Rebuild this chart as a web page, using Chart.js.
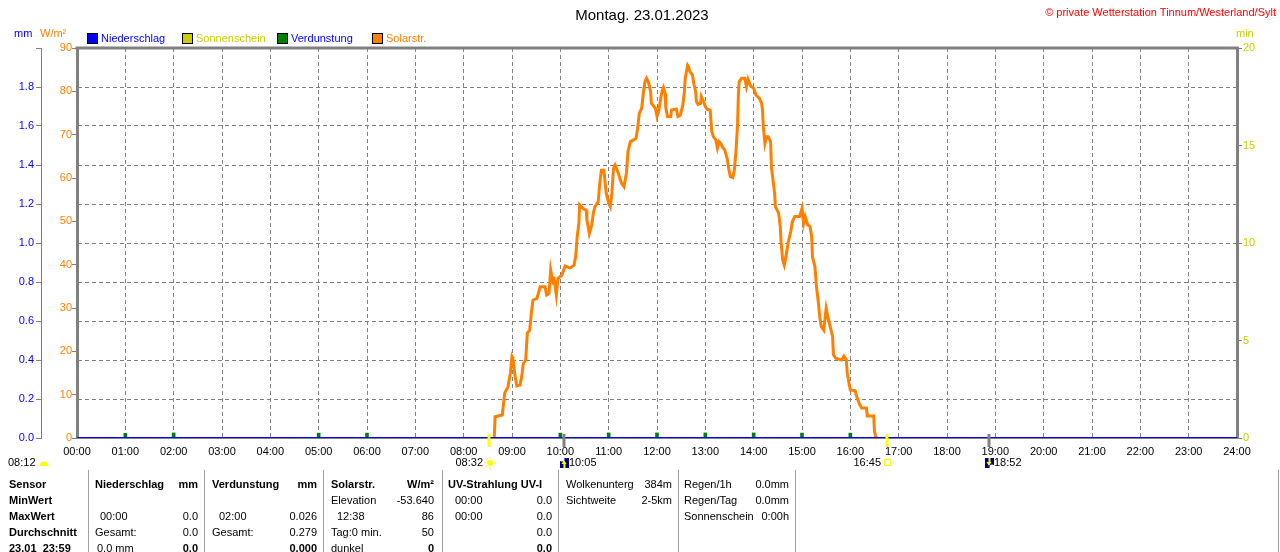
<!DOCTYPE html>
<html lang="de">
<head>
<meta charset="utf-8">
<title>Montag. 23.01.2023</title>
<script src="https://cdn.jsdelivr.net/npm/chart.js@4.4.1/dist/chart.umd.min.js"></script>
<style>
body{margin:0;background:#fff;font-family:"Liberation Sans",Arial,sans-serif;}
#wrap{position:relative;width:1280px;height:552px;overflow:hidden;}
#c{position:absolute;left:0;top:0;}
.t{position:absolute;font-size:11px;line-height:16px;white-space:nowrap;color:#000;}
.b{font-weight:bold;}
.sep{position:absolute;top:470px;height:82px;width:1px;background:#a0a0a0;}
.sq{position:absolute;top:33px;width:9px;height:9px;border:1px solid #000;}
</style>
</head>
<body>
<div id="wrap">
<canvas id="c" width="1280" height="552"></canvas>

<div class="t" style="left:0;width:1284px;top:6px;text-align:center;font-size:15px;line-height:18px">Montag. 23.01.2023</div>
<div class="t" style="right:4px;top:4px;color:#ff0000">© private Wetterstation Tinnum/Westerland/Sylt</div>

<div class="t" style="left:14px;top:25px;color:#0000ff">mm</div>
<div class="t" style="left:40px;top:25px;color:#ff8000">W/m²</div>
<div class="t" style="left:1236px;top:25px;color:#cccc00">min</div>

<div class="sq" style="left:87px;background:#0000ff"></div>
<div class="t" style="left:101px;top:30px;color:#0000ff">Niederschlag</div>
<div class="sq" style="left:182px;background:#cccc00"></div>
<div class="t" style="left:196px;top:30px;color:#cccc00">Sonnenschein</div>
<div class="sq" style="left:277px;background:#008000"></div>
<div class="t" style="left:291px;top:30px;color:#0000ff">Verdunstung</div>
<div class="sq" style="left:372px;background:#ff8000"></div>
<div class="t" style="left:386px;top:30px;color:#ff8000">Solarstr.</div>

<!-- Tabelle unten -->
<div class="sep" style="left:88px"></div>
<div class="sep" style="left:204px"></div>
<div class="sep" style="left:323px"></div>
<div class="sep" style="left:442px"></div>
<div class="sep" style="left:558px"></div>
<div class="sep" style="left:678px"></div>
<div class="sep" style="left:795px"></div>
<div class="sep" style="left:1278px"></div>

<div class="t b" style="left:9px;top:476px">Sensor</div>
<div class="t b" style="left:9px;top:492px">MinWert</div>
<div class="t b" style="left:9px;top:508px">MaxWert</div>
<div class="t b" style="left:9px;top:524px">Durchschnitt</div>
<div class="t b" style="left:9px;top:540px">23.01&nbsp;&nbsp;23:59</div>

<div class="t b" style="left:95px;top:476px">Niederschlag</div>
<div class="t b" style="right:1082px;top:476px">mm</div>
<div class="t" style="left:100px;top:508px">00:00</div>
<div class="t" style="right:1082px;top:508px">0.0</div>
<div class="t" style="left:95px;top:524px">Gesamt:</div>
<div class="t" style="right:1082px;top:524px">0.0</div>
<div class="t" style="left:97px;top:540px">0.0 mm</div>
<div class="t b" style="right:1082px;top:540px">0.0</div>

<div class="t b" style="left:212px;top:476px">Verdunstung</div>
<div class="t b" style="right:963px;top:476px">mm</div>
<div class="t" style="left:219px;top:508px">02:00</div>
<div class="t" style="right:963px;top:508px">0.026</div>
<div class="t" style="left:212px;top:524px">Gesamt:</div>
<div class="t" style="right:963px;top:524px">0.279</div>
<div class="t b" style="right:963px;top:540px">0.000</div>

<div class="t b" style="left:331px;top:476px">Solarstr.</div>
<div class="t b" style="right:846px;top:476px">W/m²</div>
<div class="t" style="left:331px;top:492px">Elevation</div>
<div class="t" style="right:846px;top:492px">-53.640</div>
<div class="t" style="left:337px;top:508px">12:38</div>
<div class="t" style="right:846px;top:508px">86</div>
<div class="t" style="left:331px;top:524px">Tag:0 min.</div>
<div class="t" style="right:846px;top:524px">50</div>
<div class="t" style="left:331px;top:540px">dunkel</div>
<div class="t b" style="right:846px;top:540px">0</div>

<div class="t b" style="left:448px;top:476px">UV-Strahlung UV-I</div>
<div class="t" style="left:455px;top:492px">00:00</div>
<div class="t" style="right:728px;top:492px">0.0</div>
<div class="t" style="left:455px;top:508px">00:00</div>
<div class="t" style="right:728px;top:508px">0.0</div>
<div class="t" style="right:728px;top:524px">0.0</div>
<div class="t b" style="right:728px;top:540px">0.0</div>

<div class="t" style="left:566px;top:476px">Wolkenunterg</div>
<div class="t" style="right:608px;top:476px">384m</div>
<div class="t" style="left:566px;top:492px">Sichtweite</div>
<div class="t" style="right:608px;top:492px">2-5km</div>

<div class="t" style="left:684px;top:476px">Regen/1h</div>
<div class="t" style="right:491px;top:476px">0.0mm</div>
<div class="t" style="left:684px;top:492px">Regen/Tag</div>
<div class="t" style="right:491px;top:492px">0.0mm</div>
<div class="t" style="left:684px;top:508px">Sonnenschein</div>
<div class="t" style="right:491px;top:508px">0:00h</div>
</div>

<script>
// Solarstrahlung W/m² (Uhrzeit / Wert)
const solarTimes = ['08:38','08:39','08:48','08:49','08:51','08:55','08:58','09:00','09:01','09:04',
  '09:06','09:10','09:12','09:14','09:17','09:19','09:22','09:24','09:26','09:31',
  '09:35','09:41','09:43','09:46','09:48','09:51','09:52','09:55','09:57','10:02',
  '10:06','10:12','10:17','10:19','10:21','10:23','10:24','10:28','10:32','10:33',
  '10:36','10:39','10:41','10:43','10:47','10:49','10:51','10:54','10:57','11:00',
  '11:02','11:04','11:06','11:08','11:12','11:14','11:16','11:19','11:22','11:24',
  '11:27','11:31','11:34','11:36','11:38','11:41','11:43','11:45','11:47','11:50',
  '11:52','11:53','11:55','11:58','12:00','12:02','12:04','12:06','12:08','12:10',
  '12:11','12:13','12:17','12:18','12:24','12:26','12:29','12:32','12:34','12:35',
  '12:38','12:39','12:41','12:44','12:46','12:48','12:49','12:51','12:54','12:55',
  '12:57','13:00','13:02','13:06','13:08','13:10','13:13','13:15','13:17','13:19',
  '13:22','13:24','13:27','13:29','13:31','13:34','13:36','13:38','13:40','13:41',
  '13:42','13:45','13:49','13:51','13:53','13:56','14:00','14:03','14:07','14:10',
  '14:11','14:12','14:14','14:16','14:18','14:21','14:22','14:24','14:26','14:27',
  '14:31','14:33','14:34','14:36','14:38','14:40','14:43','14:46','14:48','14:51',
  '14:57','15:00','15:02','15:04','15:07','15:10','15:12','15:13','15:16','15:18',
  '15:20','15:22','15:24','15:27','15:30','15:32','15:35','15:38','15:39','15:42',
  '15:49','15:52','15:55','15:56','15:58','16:00','16:06','16:08','16:11','16:14',
  '16:20','16:21','16:29','16:30','16:32'];
const solarValues = [0,4.9,5.3,7.2,10.4,11.8,15,18.8,18.4,14.1,
  12,12.2,14.1,17.2,18,24.2,24.9,28.8,31.8,32.2,
  34.9,34.9,33,33.4,38.8,35.7,37.2,33,36.8,37.6,
  39.7,39.2,39.9,41.8,46.5,49.5,53.8,53,52.6,50.3,
  47.2,49.2,51.9,53.4,54.5,58.8,61.8,61.8,56.5,54.2,
  53.4,56.5,62.2,63,61.1,59.9,58.8,58,61.1,66.1,
  68.4,68.8,69.2,71.5,74.9,76.1,79.5,82.2,83,81.8,
  79.9,77.2,76.8,76.1,74.2,75.3,77.6,79.9,80.9,79.5,
  76.1,74.2,74.2,75.7,75.9,74.2,74.5,76.8,79.9,83,
  86,85.7,84.5,83.8,81.5,79.9,77.6,77,77.2,78.8,
  78,76.5,75.9,75.7,70.7,69.5,68.8,66.9,68.4,68,
  66.9,66.5,64.6,62.2,60.3,60.1,61.8,66.1,72.2,79.1,
  82.2,83,83,81.1,82.8,81.3,80.7,79.1,78.4,77.2,
  75.7,71.8,68,69.5,69.5,68.4,62.6,59.5,56.5,53.4,
  51.9,48.8,45.3,41.1,39.9,41.8,45.3,47.6,49.9,51.1,
  51.1,53,49.5,51.1,49.2,48.8,46.5,41.8,39.5,34.9,
  31.8,28,25.7,24.9,29.9,28,25.7,23.4,19.2,18.4,
  18,18.9,18,15.3,13,11.1,10.9,9.5,8,6.9,
  6.9,5.1,5.1,1.5,0];

// Niederschlag mm
const rainTimes = ['00:00','24:00'];
const rainValues = [0,0];

// Verdunstung mm
const evapTimes = ['01:00','02:00','05:00','06:00','10:00','11:00','12:00','13:00','14:00','15:00','16:00'];
const evapValues = [0.024,0.026,0.025,0.025,0.025,0.026,0.026,0.026,0.026,0.025,0.025];

// Sonne / Mond
const dawnTime = '08:12';
const sunTimes = ['08:32','16:45'];
const moonTimes = ['10:05','18:52'];

const toMin = s => { const p = s.split(':'); return +p[0]*60 + +p[1]; };
const pts = (t, v) => t.map((s, i) => ({x: toMin(s), y: v[i]}));
const pad2 = n => String(n).padStart(2, '0');

const GRAY = '#808080';
Chart.defaults.font.family = '"Liberation Sans", Arial, sans-serif';
Chart.defaults.font.size = 11;

const extras = {
  id: 'extras',
  afterDraw(chart) {
    const {ctx, chartArea: a, scales: {x}} = chart;
    ctx.save();
    // oberer Rahmen
    ctx.strokeStyle = GRAY; ctx.lineWidth = 3;
    ctx.beginPath(); ctx.moveTo(a.left - 1.5, a.top); ctx.lineTo(a.right + 1.5, a.top); ctx.stroke();

    const yRow = 463;
    ctx.font = '11px "Liberation Sans", Arial, sans-serif';
    ctx.textBaseline = 'middle';
    ctx.fillStyle = '#000';

    // Dämmerung
    ctx.textAlign = 'left';
    ctx.fillText(dawnTime, 8, yRow);
    ctx.fillStyle = '#ffff00';
    ctx.beginPath(); ctx.arc(44, yRow + 3, 4.5, Math.PI, 0); ctx.closePath(); ctx.fill();

    // Sonnenauf-/untergang
    sunTimes.forEach((s, i) => {
      const px = Math.round(x.getPixelForValue(toMin(s)));
      ctx.strokeStyle = '#ffff00'; ctx.lineWidth = 3;
      ctx.beginPath(); ctx.moveTo(px, 434); ctx.lineTo(px, 447); ctx.stroke();
      ctx.fillStyle = '#000'; ctx.textAlign = 'right';
      ctx.fillText(s, px - 6, yRow);
      if (i === 0) {
        ctx.fillStyle = '#ffff00';
        ctx.beginPath(); ctx.arc(px + 1, yRow, 3, 0, Math.PI * 2); ctx.fill();
        ctx.strokeStyle = '#ffff00'; ctx.lineWidth = 1;
        for (let k = 0; k < 8; k++) {
          const an = k * Math.PI / 4;
          ctx.beginPath();
          ctx.moveTo(px + 1 + Math.cos(an) * 4, yRow + Math.sin(an) * 4);
          ctx.lineTo(px + 1 + Math.cos(an) * 6, yRow + Math.sin(an) * 6);
          ctx.stroke();
        }
      } else {
        ctx.strokeStyle = '#ffff00'; ctx.lineWidth = 1;
        ctx.strokeRect(px - 2.5, yRow - 3.5, 6, 6);
      }
    });

    // Mondauf-/untergang
    moonTimes.forEach((s, i) => {
      const px = Math.round(x.getPixelForValue(toMin(s)));
      ctx.strokeStyle = GRAY; ctx.lineWidth = 3;
      ctx.beginPath(); ctx.moveTo(px, 434); ctx.lineTo(px, 447); ctx.stroke();
      ctx.fillStyle = '#000080';
      ctx.fillRect(px - 4, yRow - 5, 9, 10);
      ctx.fillStyle = '#ffffff';
      ctx.beginPath(); ctx.arc(i === 0 ? px - 2 : px + 3, i === 0 ? yRow - 4 : yRow + 4, 2.5, 0, Math.PI * 2); ctx.fill();
      ctx.fillStyle = '#ffff00';
      ctx.beginPath();
      if (i === 0) { ctx.moveTo(px, yRow - 3); ctx.lineTo(px - 2.5, yRow + 1); ctx.lineTo(px + 2.5, yRow + 1); }
      else { ctx.moveTo(px, yRow + 3); ctx.lineTo(px - 2.5, yRow - 1); ctx.lineTo(px + 2.5, yRow - 1); }
      ctx.fill();
      ctx.fillRect(px - 0.5, i === 0 ? yRow : yRow - 5, 2, 5);
      ctx.fillStyle = '#000'; ctx.textAlign = 'left';
      ctx.fillText(s, px + 5, yRow);
    });
    ctx.restore();
  }
};

new Chart(document.getElementById('c'), {
  data: {
    datasets: [
      {
        type: 'line', label: 'Niederschlag', data: pts(rainTimes, rainValues),
        yAxisID: 'mm', borderColor: '#0000ff', borderWidth: 2, pointRadius: 0, order: 0
      },
      {
        type: 'bar', label: 'Verdunstung', data: pts(evapTimes, evapValues),
        yAxisID: 'mm', backgroundColor: '#008000', barThickness: 3, order: 1
      },
      {
        type: 'line', label: 'Solarstr.', data: pts(solarTimes, solarValues),
        yAxisID: 'w', borderColor: '#ff8000', borderWidth: 3, pointRadius: 0,
        tension: 0, order: 2
      }
    ]
  },
  options: {
    responsive: false,
    animation: false,
    events: [],
    layout: {padding: {top: 48, left: 0, right: 0, bottom: 0}},
    plugins: {legend: {display: false}, tooltip: {enabled: false}},
    scales: {
      x: {
        type: 'linear', min: 0, max: 1440, offset: false,
        afterFit: s => { s.height = 114; },
        ticks: {stepSize: 60, autoSkip: false, maxRotation: 0, color: '#000', padding: 7,
          callback: v => pad2(v / 60) + ':00'},
        grid: {color: GRAY, drawTicks: false, offset: false},
        border: {color: GRAY, width: 2, dash: [4, 3]}
      },
      mm: {
        position: 'left', weight: 2, min: 0, max: 2,
        afterFit: s => { s.width = 41; },
        ticks: {stepSize: 0.2, color: '#0000ff', padding: 2,
          callback: v => (Math.round(v * 10) >= 20 ? '' : (Math.round(v * 10) / 10).toFixed(1))},
        grid: {color: GRAY, tickLength: 5},
        border: {color: GRAY, width: 1, dash: [4, 3]}
      },
      w: {
        position: 'left', weight: 1, min: 0, max: 90,
        afterFit: s => { s.width = 36; },
        ticks: {stepSize: 10, color: '#ff8000', padding: 0},
        grid: {drawOnChartArea: false, color: GRAY, tickLength: 5},
        border: {color: GRAY, width: 3}
      },
      min: {
        position: 'right', min: 0, max: 20,
        afterFit: s => { s.width = 43; },
        ticks: {stepSize: 5, color: '#cccc00', padding: 1},
        grid: {drawOnChartArea: false, color: GRAY, tickLength: 5},
        border: {color: GRAY, width: 3}
      }
    }
  },
  plugins: [extras]
});
</script>
</body>
</html>
